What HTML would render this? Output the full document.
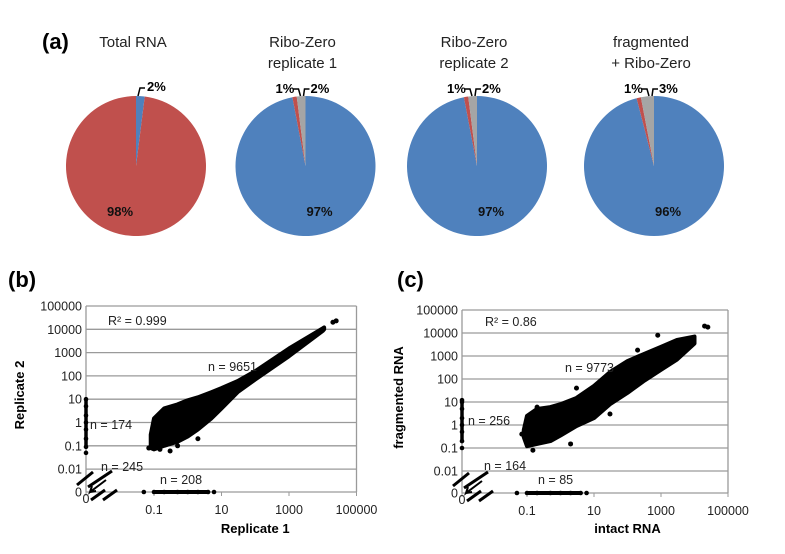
<!DOCTYPE html>
<html><head><meta charset="utf-8">
<style>
body{margin:0;background:#fff;}
svg{display:block;font-family:"Liberation Sans",Arial,sans-serif;}
</style></head>
<body>
<svg width="785" height="554" viewBox="0 0 785 554">
<rect width="785" height="554" fill="#fff"/>
<g id="pies"></g>
<g id="scB"></g>
<g id="scC"></g>
</svg>
<script>
const NS="http://www.w3.org/2000/svg";
function mk(p,tag,attrs,txt){const e=document.createElementNS(NS,tag);for(const k in attrs)e.setAttribute(k,attrs[k]);if(txt!=null)e.textContent=txt;p.appendChild(e);return e;}

// ---------- Pie data ----------
const pieTitles=[["Total RNA"],["Ribo-Zero","replicate 1"],["Ribo-Zero","replicate 2"],["fragmented","+ Ribo-Zero"]];
const pieBlue=[2,97,97,96];
const pieRed=[98,1,1,1];
const pieGray=[0,2,2,3];
const pieCx=[136,305.5,477,654];
const colors={blue:"#4f81bd",red:"#c0504d",gray:"#a5a5a5"};

const pies=document.getElementById('pies');
const lblA=mk(pies,'text',{x:42,y:49,'font-size':22,'font-weight':'bold'},'(a)');


const cy=166,R=70;
function pt(cx,a,r){return [cx+r*Math.sin(a),cy-r*Math.cos(a)];}
pieBlue.forEach((b,i)=>{
  const cx=pieCx[i];
  const vals=[b,pieRed[i],pieGray[i]];const cols=[colors.blue,colors.red,colors.gray];const names=['blue','red','gray'];
  const tot=vals.reduce((s,v)=>s+v,0);
  let a=0;
  vals.forEach((v,j)=>{
    if(v<=0)return;
    const a2=a+v/tot*2*Math.PI;
    const p1=pt(cx,a,R),p2=pt(cx,a2,R);
    const large=(a2-a)>Math.PI?1:0;
    const s=mk(pies,'path',{d:`M${cx},${cy}L${p1[0]},${p1[1]}A${R},${R} 0 ${large} 1 ${p2[0]},${p2[1]}Z`,fill:cols[j]});
    
    
    a=a2;
  });
  pieTitles[i].forEach((t,k)=>{
    const tt=mk(pies,'text',{x:cx-3,y:47+k*21,'font-size':15,'text-anchor':'middle',fill:'#222'},t);
    
    
  });
  const big=i===0?pieRed[0]:b;
  const bl=mk(pies,'text',{x:i===0?cx-16:cx+14,y:216,'font-size':13,'font-weight':'bold','text-anchor':'middle',fill:'#111'},big+'%');
  
  
  if(i===0){
    mk(pies,'path',{d:`M${cx+2},${cy-R}l2,-8h5`,stroke:'#000',fill:'none','stroke-width':1.5});
    const l=mk(pies,'text',{x:cx+11,y:91,'font-size':13,'font-weight':'bold'},pieBlue[0]+'%');
    
    
  } else {
    mk(pies,'path',{d:`M${cx-5},${cy-R}l-2,-7h-5`,stroke:'#000',fill:'none','stroke-width':1.5});
    mk(pies,'path',{d:`M${cx-2},${cy-R}l1,-7h5`,stroke:'#000',fill:'none','stroke-width':1.5});
    const l1=mk(pies,'text',{x:cx-30,y:93,'font-size':13,'font-weight':'bold'},pieRed[i]+'%');
    
    
    const l2=mk(pies,'text',{x:cx+5,y:93,'font-size':13,'font-weight':'bold'},pieGray[i]+'%');
    
    
  }
});

// ---------- Scatter data ----------
const yTicks=["100000","10000","1000","100","10","1","0.1","0.01","0"];
const xTicks=["0","0.1","10","1000","100000"];
// panel b
const bEnvX=[0.08,0.1,0.2,0.5,1,2,5,10,30,100,1000,10000,11000];
const bEnvHi=[0.3,1.5,4,6,9,12,20,30,60,160,1500,11000,12000];
const bEnvLo=[0.08,0.07,0.1,0.15,0.25,0.5,1.5,4,20,70,700,8500,10000];
const bPtsX=[0.07,0.09,0.12,0.3,0.5,0.2,1.5,3,8,20000,25000,0.15,0.6,2];
const bPtsY=[0.08,0.12,0.9,0.06,0.1,1.2,6,7,4,20000,23000,0.07,2.5,0.2];
const bZeroRowX=[0.05,0.1,0.2,0.5,1,2,4,6];
const bZeroColY=[0.05,0.09,0.2,0.5,1,2,5,10];
// panel c
const cEnvX=[0.08,0.1,0.2,0.5,1,3,10,30,100,300,1000,3000,10000];
const cEnvHi=[0.6,2.5,5,6,8,15,50,200,600,1200,2500,5000,7000];
const cEnvLo=[0.3,0.12,0.15,0.2,0.35,0.9,2,8,25,80,250,700,3500];
const cPtsX=[0.07,0.15,0.5,2,5,30,40,200,20000,25000,3,800,1500,0.2];
const cPtsY=[0.4,0.08,2.3,0.15,3,3,25,1800,20000,18000,40,8000,2000,6];
const cZeroRowX=[0.05,0.1,0.2,0.5,1,2,4,6];
const cZeroColY=[0.1,0.2,0.5,1,2,5,10,12];

function scatter(gid,o){
  const g=document.getElementById(gid);
  const X=v=>v===0?o.x0:o.xa+(Math.log10(v)+1)*o.xd;
  const Y=v=>v===0?o.y0:o.yt+(5-Math.log10(v))*o.yd;
  const right=X(100000), top=Y(100000);
  [100000,10000,1000,100,10,1,0.1,0.01,0].forEach((v,i)=>{
    const gl=mk(g,'line',{x1:o.x0,x2:right,y1:Y(v),y2:Y(v),stroke:'#9a9a9a','stroke-width':1.3});
    
    
    const tl=mk(g,'text',{x:o.x0-4,y:Y(v)+4.5,'font-size':12.5,'text-anchor':'end',fill:'#222'},yTicks[i]);
    
    
  });
  mk(g,'line',{x1:o.x0,x2:o.x0,y1:top,y2:o.y0,stroke:'#9a9a9a','stroke-width':1.3});
  mk(g,'line',{x1:right,x2:right,y1:top,y2:o.y0,stroke:'#9a9a9a','stroke-width':1.3});
  [0,0.1,10,1000,100000].forEach((v,i)=>{
    mk(g,'line',{x1:X(v),x2:X(v),y1:o.y0,y2:o.y0+4,stroke:'#9a9a9a'});
    const tl=mk(g,'text',{x:X(v),y:o.y0+(i===0?11:22),'font-size':12.5,'text-anchor':'middle',fill:'#222'},xTicks[i]);
    
    
  });
  let d='M'+o.envX.map((x,i)=>X(x)+','+Y(o.hi[i])).join('L');
  for(let i=o.envX.length-1;i>=0;i--)d+='L'+X(o.envX[i])+','+Y(o.lo[i]);
  const cl=mk(g,'path',{d:d+'Z',fill:'#000',stroke:'#000','stroke-width':4,'stroke-linejoin':'round'});
  
  
  o.px.forEach((x,i)=>{
    const c=mk(g,'circle',{cx:X(x),cy:Y(o.py[i]),r:2.5,fill:'#000'});
    
    
  });
  const zr=o.zr;
  const zrl=mk(g,'line',{x1:X(zr[1]),x2:X(zr[zr.length-2]),y1:o.y0,y2:o.y0,stroke:'#000','stroke-width':4});
  
  
  zr.forEach(x=>mk(g,'circle',{cx:X(x),cy:o.y0,r:2.3,fill:'#000'}));
  const zc=o.zc;
  const zcl=mk(g,'line',{x1:o.x0,x2:o.x0,y1:Y(zc[1]),y2:Y(zc[zc.length-1]),stroke:'#000','stroke-width':3.5});
  
  
  zc.forEach(y=>mk(g,'circle',{cx:o.x0,cy:Y(y),r:2.3,fill:'#000'}));
  const bx=o.x0,by=o.y0;
  [[-9,-7,7,-20],[2,-5,26,-21],[5,8,19,-2],[17,8,31,-2]].forEach(s=>{
    const bm=mk(g,'line',{x1:bx+s[0],y1:by+s[1],x2:bx+s[2],y2:by+s[3],stroke:'#000','stroke-width':3});
    
    
  });
  mk(g,'path',{d:`M${bx+20},${by-12}L${bx+4},${by}l2,-6m-2,6l6,-1`,stroke:'#000',fill:'none','stroke-width':2});
  const pl=mk(g,'text',{x:o.plx,y:287,'font-size':22,'font-weight':'bold'},o.panel);
  
  
  const yl=mk(g,'text',{x:0,y:0,'font-size':13,'font-weight':'bold','text-anchor':'middle',transform:`translate(${o.ylx},${(top+o.y0)/2-4}) rotate(-90)`},o.ylab);
  
  
  const xl=mk(g,'text',{x:(X(0.1)+right)/2,y:533,'font-size':13,'font-weight':'bold','text-anchor':'middle'},o.xlab);
  
  
  o.ann.forEach(a=>{
    const t=mk(g,'text',{x:a[0],y:a[1],'font-size':12.5,fill:'#222'},a[2]);
    
    
  });
}
scatter('scB',{x0:86,xa:154,xd:33.75,y0:492,yt:306,yd:23.3,envX:bEnvX,hi:bEnvHi,lo:bEnvLo,px:bPtsX,py:bPtsY,zr:bZeroRowX,zc:bZeroColY,
  panel:'(b)',plx:8,ylx:24,ylab:'Replicate 2',xlab:'Replicate 1',
  ann:[[108,325,'R² = 0.999'],[208,371,'n = 9651'],[90,429,'n = 174'],[101,471,'n = 245'],[160,484,'n = 208']]});
scatter('scC',{x0:462,xa:527,xd:33.5,y0:493,yt:310,yd:23,envX:cEnvX,hi:cEnvHi,lo:cEnvLo,px:cPtsX,py:cPtsY,zr:cZeroRowX,zc:cZeroColY,
  panel:'(c)',plx:397,ylx:403,ylab:'fragmented RNA',xlab:'intact RNA',
  ann:[[485,326,'R² = 0.86'],[565,372,'n = 9773'],[468,425,'n = 256'],[484,470,'n = 164'],[538,484,'n = 85']]});
</script>
</body></html>
